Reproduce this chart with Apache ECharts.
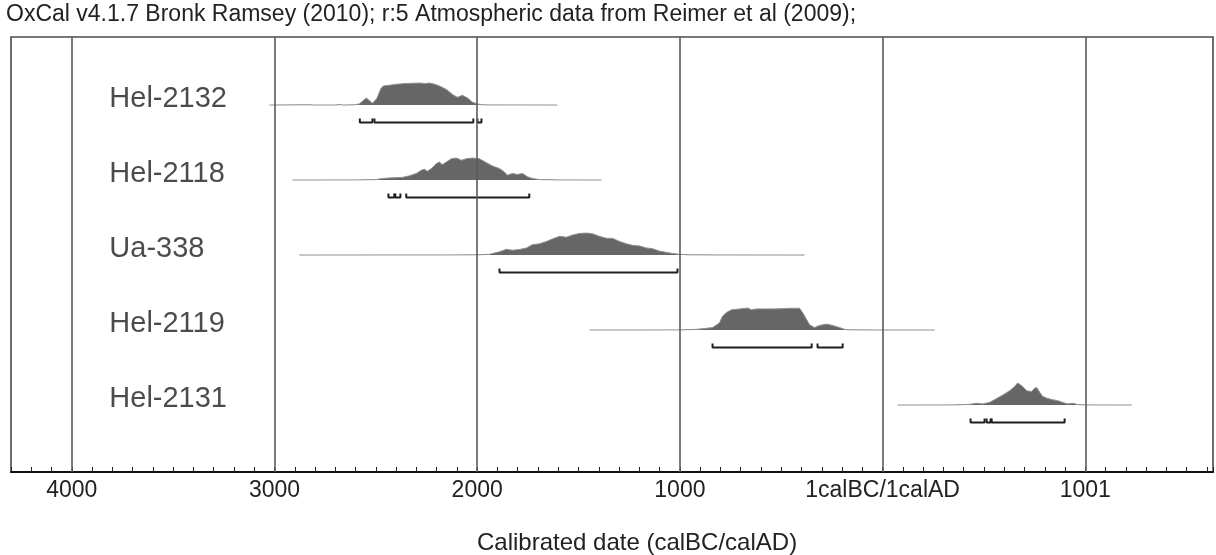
<!DOCTYPE html>
<html><head><meta charset="utf-8">
<script src="https://cdn.jsdelivr.net/npm/echarts@6/dist/echarts.min.js"></script>
<style>html,body{margin:0;padding:0;background:#fff}#c{width:1216px;height:555px}</style>
</head><body><div id="c"></div>
<script>
// ---- data (years: negative = calBC, positive = calAD) ----
const sampleNames = ['Hel-2132', 'Hel-2118', 'Ua-338', 'Hel-2119', 'Hel-2131'];
const majorTickValues = [-4000, -3000, -2000, -1000, 0, 1000];
const majorTickLabels = ['4000', '3000', '2000', '1000', '1calBC/1calAD', '1001'];
const titleText = 'OxCal v4.1.7 Bronk Ramsey (2010); r:5 Atmospheric data from Reimer et al (2009);';
const axisTitle = 'Calibrated date (calBC/calAD)';

// relative probability (0..1) by calendar year
const dens_Hel2132 = [[-3025,0],[-2830,0.01],[-2810,0],[-2700,0],[-2680,0.02],[-2660,0],[-2606,0.01],[-2582,0.05],[-2547,0.32],[-2517,0.08],[-2495,0.3],[-2475,0.75],[-2463,0.87],[-2433,0.9],[-2394,0.95],[-2350,0.98],[-2320,0.99],[-2285,1.0],[-2255,0.98],[-2236,1.0],[-2211,0.95],[-2187,0.87],[-2152,0.71],[-2122,0.48],[-2098,0.35],[-2073,0.44],[-2048,0.32],[-2024,0.13],[-1999,0.05],[-1974,0.01],[-1940,0.005],[-1605,0]];
const dens_Hel2118 = [[-2912,0],[-2600,0.005],[-2500,0.02],[-2468,0.07],[-2419,0.10],[-2369,0.12],[-2335,0.19],[-2300,0.30],[-2275,0.45],[-2261,0.49],[-2246,0.40],[-2226,0.52],[-2201,0.75],[-2187,0.82],[-2172,0.70],[-2152,0.82],[-2127,0.97],[-2103,1.0],[-2078,0.90],[-2053,0.97],[-2024,1.0],[-1989,0.97],[-1955,0.79],[-1925,0.64],[-1890,0.52],[-1866,0.37],[-1851,0.22],[-1826,0.30],[-1802,0.25],[-1777,0.30],[-1752,0.15],[-1728,0.07],[-1693,0.02],[-1600,0.005],[-1387,0]];
const dens_Ua338 = [[-2878,0],[-2100,0.005],[-2000,0.01],[-1940,0.03],[-1890,0.15],[-1856,0.26],[-1826,0.22],[-1792,0.25],[-1757,0.32],[-1728,0.47],[-1693,0.51],[-1658,0.62],[-1629,0.73],[-1594,0.85],[-1560,0.81],[-1530,0.91],[-1496,0.98],[-1461,1.0],[-1431,0.97],[-1397,0.85],[-1362,0.76],[-1333,0.76],[-1298,0.62],[-1264,0.51],[-1234,0.44],[-1199,0.41],[-1165,0.32],[-1135,0.29],[-1101,0.18],[-1066,0.12],[-1037,0.07],[-1002,0.03],[-953,0.01],[-800,0.003],[-385,0]];
const dens_Hel2119 = [[-1446,0],[-1000,0.005],[-918,0.03],[-869,0.08],[-839,0.11],[-805,0.32],[-790,0.63],[-770,0.8],[-745,0.92],[-706,0.96],[-666,1.0],[-647,0.92],[-622,0.96],[-580,0.96],[-543,0.96],[-500,0.97],[-459,0.99],[-410,0.99],[-395,0.8],[-375,0.48],[-360,0.24],[-336,0.11],[-311,0.21],[-276,0.27],[-247,0.21],[-212,0.11],[-188,0.03],[-163,0.01],[-50,0.003],[257,0]];
const dens_Hel2131 = [[74,0],[350,0.005],[429,0.03],[464,0.08],[494,0.05],[528,0.12],[563,0.30],[592,0.45],[627,0.65],[652,0.85],[666,1.0],[686,0.88],[711,0.65],[735,0.61],[750,0.76],[760,0.80],[775,0.58],[790,0.39],[814,0.30],[839,0.24],[864,0.20],[888,0.12],[913,0.05],[938,0.08],[963,0.02],[1000,0.005],[1229,0]];

// 95.4% ranges
const range_Hel2132 = [[-2579,-2517],[-2507,-2019],[-1999,-1979]];
const range_Hel2118 = [[-2438,-2409],[-2404,-2379],[-2350,-1743]];
const range_Ua338 = [[-1890,-1012]];
const range_Hel2119 = [[-839,-350],[-321,-197]];
const range_Hel2131 = [[434,503],[513,533],[538,898]];

const densities = [dens_Hel2132, dens_Hel2118, dens_Ua338, dens_Hel2119, dens_Hel2131];
const ranges = [range_Hel2132, range_Hel2118, range_Ua338, range_Hel2119, range_Hel2131];

// ---- layout / style ----
const FONT = '"Liberation Sans", Arial, Helvetica, sans-serif';
const Y_SPAN = 5.8, FIRST_BASE = 4.893, PEAK = 0.293, BR_OFF = -0.233, HOOK = 0.055;
const LABEL_X = -3815, LABEL_DY = 0.08;

const yAxes = sampleNames.map((n, i) => {
  const b = FIRST_BASE - i;
  return { type: 'value', min: -b, max: Y_SPAN - b, show: false };
});

const series = [];
series.push({
  type: 'line', yAxisIndex: 0, data: [[-4300, 0]], showSymbol: false, symbol: 'none',
  lineStyle: { width: 0 }, silent: true,
  markLine: { silent: true, symbol: 'none', label: { show: false },
    lineStyle: { color: '#5a5a5a', width: 1.6, type: 'solid' },
    data: majorTickValues.map(v => ({ xAxis: v })) }
});
densities.forEach((d, i) => {
  series.push({
    type: 'line', yAxisIndex: i, data: d.map(p => [p[0], p[1] * PEAK]),
    symbol: 'none', lineStyle: { color: '#8f8f8f', width: 1 },
    areaStyle: { color: '#666666', opacity: 1 }, z: 3
  });
  ranges[i].forEach(r => {
    series.push({
      type: 'line', yAxisIndex: i,
      data: [[r[0], BR_OFF + HOOK], [r[0], BR_OFF], [r[1], BR_OFF], [r[1], BR_OFF + HOOK]],
      symbol: 'none', lineStyle: { color: '#1e1e1e', width: 2 }, z: 4
    });
  });
  series.push({
    type: 'scatter', yAxisIndex: i, data: [[LABEL_X, LABEL_DY]], symbolSize: 0,
    label: { show: true, position: 'right', distance: 0, formatter: sampleNames[i],
      fontSize: 29, color: '#1e1e1e', fontFamily: FONT }
  });
});

const chart = echarts.init(document.getElementById('c'), null, { renderer: 'canvas' });
chart.setOption({
  animation: false,
  backgroundColor: '#fff',
  title: [
    { text: titleText, left: 6, top: 3, padding: 0,
      textStyle: { fontSize: 23, fontWeight: 'normal', color: '#222', fontFamily: FONT } },
    { text: axisTitle, left: 477, top: 531, padding: 0,
      textStyle: { fontSize: 24, fontWeight: 'normal', color: '#222', fontFamily: FONT } }
  ],
  grid: { left: 11, right: 3, top: 37, bottom: 83, show: true, borderColor: '#4a4a4a', borderWidth: 1.6 },
  xAxis: {
    type: 'value', min: -4300, max: 1630, interval: 100,
    splitLine: { show: false },
    axisLine: { onZero: false, lineStyle: { color: '#111', width: 2 } },
    axisTick: { inside: true, length: 5, lineStyle: { color: '#222', width: 1 } },
    axisLabel: { fontSize: 23, color: '#222', margin: 7, fontFamily: FONT,
      formatter: v => { const k = majorTickValues.indexOf(v); return k < 0 ? '' : majorTickLabels[k]; } }
  },
  yAxis: yAxes,
  series: series
});
</script></body></html>
